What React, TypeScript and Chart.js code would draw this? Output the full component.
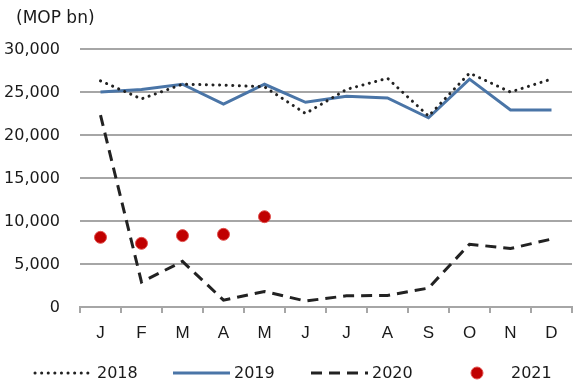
import React, { useEffect, useRef } from 'react';
import { Chart, registerables } from 'chart.js';

Chart.register(...registerables);

const months = ['J', 'F', 'M', 'A', 'M', 'J', 'J', 'A', 'S', 'O', 'N', 'D'];
const s2018 = [26300, 24200, 25900, 25800, 25600, 22500, 25300, 26600, 22200, 27200, 25000, 26500];
const s2019 = [25000, 25300, 25900, 23600, 25900, 23800, 24500, 24300, 22000, 26500, 22900, 22900];
const s2020 = [22300, 2900, 5300, 800, 1800, 700, 1300, 1350, 2200, 7300, 6800, 7900];
const s2021 = [8100, 7400, 8300, 8450, 10500, null, null, null, null, null, null, null];
const yTickValues = [0, 5000, 10000, 15000, 20000, 25000, 30000];
const unitLabel = '(MOP bn)';

const FONT = '"DejaVu Sans", sans-serif';
const XFONT = '"Liberation Sans", Arial, sans-serif';
const TEXT = '#1a1a1a';
const GRID = '#a6a6a6';

const overlay = {
  id: 'overlay',
  afterDraw(chart: any) {
    const ctx = chart.ctx;
    ctx.save();
    ctx.fillStyle = TEXT;
    ctx.font = `17px ${FONT}`;
    ctx.textBaseline = 'middle';
    ctx.textAlign = 'left';
    ctx.fillText(unitLabel, 16, 19);

    ctx.font = `16px ${FONT}`;
    const y = 373;
    const layout = [
      { x0: 35, x1: 89, tx: 97 },
      { x0: 173, x1: 230, tx: 234 },
      { x0: 311, x1: 368, tx: 372 },
      { x0: 470, x1: 484, tx: 511 },
    ];
    chart.data.datasets.forEach((ds: any, i: number) => {
      const L = layout[i];
      ctx.save();
      if (ds.showLine === false) {
        ctx.beginPath();
        ctx.arc((L.x0 + L.x1) / 2, y, ds.pointRadius, 0, Math.PI * 2);
        ctx.fillStyle = ds.pointBackgroundColor;
        ctx.fill();
        ctx.lineWidth = ds.pointBorderWidth;
        ctx.strokeStyle = ds.pointBorderColor;
        ctx.stroke();
      } else {
        ctx.beginPath();
        ctx.setLineDash(ds.borderDash || []);
        ctx.lineCap = ds.borderCapStyle || 'butt';
        ctx.lineWidth = ds.borderWidth;
        ctx.strokeStyle = ds.borderColor;
        ctx.moveTo(L.x0, y);
        ctx.lineTo(L.x1, y);
        ctx.stroke();
      }
      ctx.restore();
      ctx.fillStyle = TEXT;
      ctx.fillText(ds.label, L.tx, y + 1);
    });
    ctx.restore();
  },
};

export default function App() {
  const ref = useRef<HTMLCanvasElement>(null);
  useEffect(() => {
    if (!ref.current) return;
    const chart = new Chart(ref.current, {
      type: 'line',
      data: {
        labels: months,
        datasets: [
          {
            label: '2018',
            data: s2018,
            borderColor: '#222222',
            borderWidth: 3,
            borderDash: [0.1, 6.5],
            borderCapStyle: 'round',
            pointRadius: 0,
            tension: 0,
            fill: false,
          },
          {
            label: '2019',
            data: s2019,
            borderColor: '#4a75a7',
            borderWidth: 3,
            pointRadius: 0,
            tension: 0,
            fill: false,
          },
          {
            label: '2020',
            data: s2020,
            borderColor: '#222222',
            borderWidth: 3,
            borderDash: [11, 7],
            pointRadius: 0,
            tension: 0,
            fill: false,
          },
          {
            label: '2021',
            data: s2021,
            showLine: false,
            backgroundColor: '#c00000',
            borderColor: '#c00000',
            pointRadius: 6,
            pointBorderWidth: 1,
            pointBorderColor: '#e0504d',
            pointBackgroundColor: '#c00000',
          } as any,
        ],
      },
      options: {
        animation: false,
        responsive: false,
        maintainAspectRatio: false,
        layout: { padding: { left: 0, right: 1, top: 49, bottom: 52 } },
        plugins: { legend: { display: false }, tooltip: { enabled: false }, title: { display: false } },
        scales: {
          x: {
            offset: true,
            grid: {
              display: true,
              offset: true,
              drawOnChartArea: false,
              drawTicks: true,
              tickLength: 6,
              color: GRID,
              lineWidth: 2,
            },
            border: { display: true, color: GRID, width: 2 },
            ticks: { color: TEXT, font: { family: XFONT, size: 17 }, padding: 10, maxRotation: 0, autoSkip: false },
            afterFit: (s: any) => { s.height = 32; },
          },
          y: {
            min: 0,
            max: 30000,
            afterBuildTicks: (s: any) => { s.ticks = yTickValues.map((v) => ({ value: v })); },
            grid: { color: GRID, lineWidth: 2, drawTicks: false },
            border: { display: false },
            ticks: {
              color: TEXT,
              font: { family: FONT, size: 16 },
              padding: 20,
              labelOffset: 1,
              callback: (v: any) => Number(v).toLocaleString('en-US'),
            },
            afterFit: (s: any) => { s.width = 80; },
          },
        },
      },
      plugins: [overlay],
    });
    return () => chart.destroy();
  }, []);
  return (
    <div style={{ position: 'fixed', left: 0, top: 0, width: 579, height: 391, background: '#fff' }}>
      <canvas ref={ref} width={579} height={391} style={{ display: 'block', width: 579, height: 391 }} />
    </div>
  );
}
